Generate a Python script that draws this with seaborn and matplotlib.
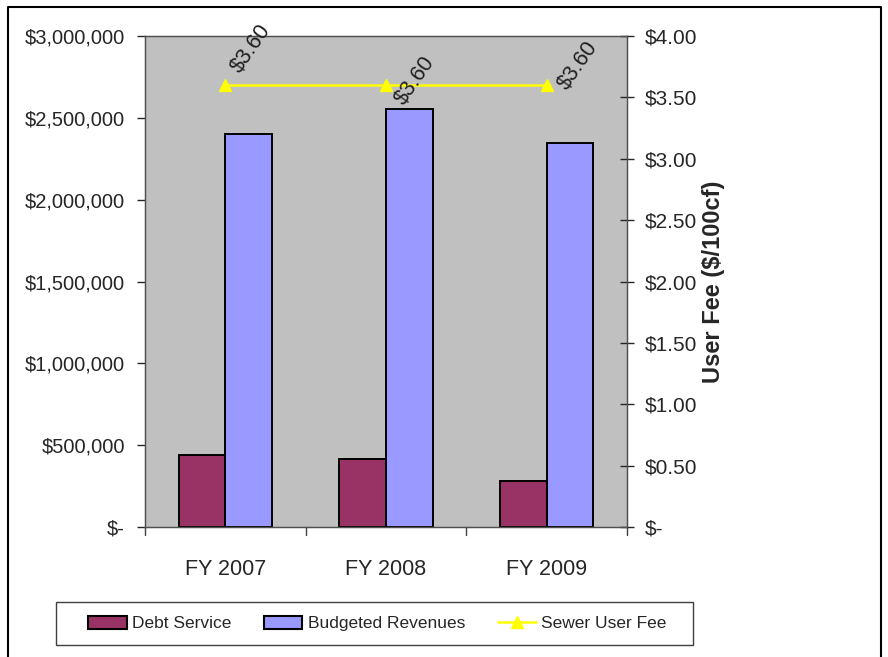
import numpy as np
import pandas as pd
import matplotlib.pyplot as plt
import matplotlib.ticker as mticker
from matplotlib.patches import Patch, Rectangle
from matplotlib.lines import Line2D
import seaborn as sns

years = ['FY 2007', 'FY 2008', 'FY 2009']
debt_service = [440000, 415000, 281000]
budgeted_revenues = [2401000, 2554000, 2346000]
user_fee = [3.60, 3.60, 3.60]

sns.set_style('white')
plt.rcParams['font.family'] = ['Liberation Sans', 'DejaVu Sans']

df = pd.DataFrame({
    'Year': years * 2,
    'Amount': debt_service + budgeted_revenues,
    'Series': ['Debt Service'] * 3 + ['Budgeted Revenues'] * 3,
})

W, H = 888, 657
fig = plt.figure(figsize=(W / 100, H / 100), dpi=100)
ax = fig.add_axes([145 / W, 1 - 527 / H, (627 - 145) / W, (527 - 36) / H])
ax.set_facecolor('#C0C0C0')

colors = {'Debt Service': '#993366', 'Budgeted Revenues': '#9999FF'}
sns.barplot(data=df, x='Year', y='Amount', hue='Series', palette=colors,
            saturation=1, width=0.58, edgecolor='black', linewidth=1.4,
            ax=ax, legend=False)

ax.set_ylim(0, 3000000)
ax.set_xlim(-0.5, 2.5)
ax.set_yticks(np.arange(0, 3000001, 500000))
ax.yaxis.set_major_formatter(mticker.FuncFormatter(
    lambda v, p: '$-' if v == 0 else '${:,.0f}'.format(v)))
ax.set_xlabel('')
ax.set_ylabel('')
ax.tick_params(axis='y', direction='out', length=6, width=1, labelsize=14.5,
               left=True, pad=8.5)
ax.tick_params(axis='x', length=0, labelsize=15.5, pad=23)
for xb in [-0.5, 0.5, 1.5, 2.5]:
    ax.plot([xb, xb], [0, -0.016], transform=ax.get_xaxis_transform(),
            color='#404040', lw=1, clip_on=False)
for s in ax.spines.values():
    s.set_color('#505050')
    s.set_linewidth(1)

ax2 = ax.twinx()
ax2.plot(range(len(years)), user_fee, color='#FFFF00', lw=1.8, marker='^',
         markersize=9)
ax2.set_ylim(0, 4)
ax2.set_yticks(np.arange(0, 4.01, 0.5))
ax2.yaxis.set_major_formatter(mticker.FuncFormatter(
    lambda v, p: '$-' if v == 0 else '${:.2f}'.format(v)))
ax2.tick_params(axis='y', direction='inout', length=10, width=1, labelsize=15,
                right=True, pad=8)
ax2.set_ylabel('User Fee ($/100cf)', fontsize=17, fontweight='bold', labelpad=3)
for s in ax2.spines.values():
    s.set_color('#505050')

label_offsets = [(0.095, 0.09), (0.11, -0.17), (0.13, -0.045)]
for i, v in enumerate(user_fee):
    dx, dy = label_offsets[i]
    ax2.text(i + dx, v + dy, '${:.2f}'.format(v), rotation=55, fontsize=15.5,
             ha='left', va='baseline', rotation_mode='anchor', color='#202020')

handles = [
    Patch(facecolor='#993366', edgecolor='black', linewidth=1.5, label='Debt Service'),
    Patch(facecolor='#9999FF', edgecolor='black', linewidth=1.5, label='Budgeted Revenues'),
    Line2D([0], [0], color='#FFFF00', lw=1.8, marker='^', markersize=9,
           label='Sewer User Fee'),
]
leg = fig.legend(handles=handles, loc='center',
                 bbox_to_anchor=(377.5 / W, 1 - 623.5 / H),
                 ncol=3, fontsize=12.5, frameon=False,
                 handlelength=2.2, handleheight=0.75, handletextpad=0.3,
                 columnspacing=1.9)

fig.patches.append(Rectangle((56 / W, 1 - 645 / H), (693 - 56) / W, 43 / H,
                             transform=fig.transFigure, fill=False,
                             edgecolor='#404040', lw=1))
fig.lines.append(Line2D([8 / W, 8 / W, 881 / W, 881 / W], [0, 1 - 7 / H, 1 - 7 / H, 0],
                        transform=fig.transFigure, color='black', lw=1.5))

fig.savefig('out.png', dpi=100)
